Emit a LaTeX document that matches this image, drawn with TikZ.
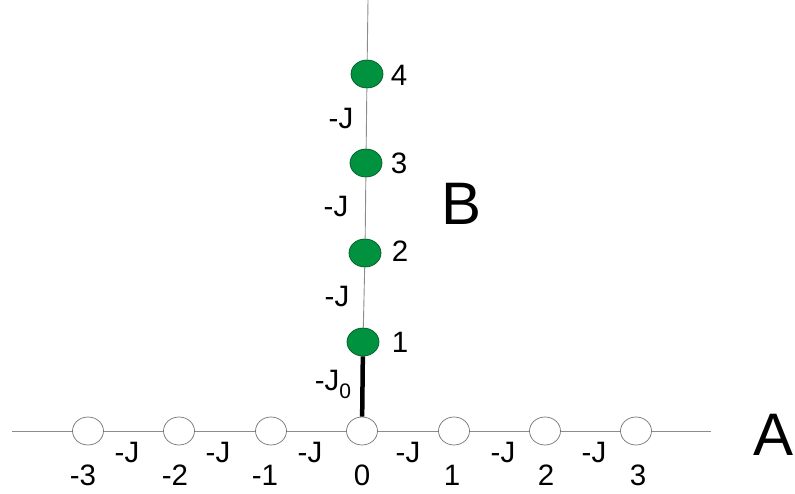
\documentclass[tikz,border=0pt]{standalone}
\usepackage{fontspec}
\setmainfont{Liberation Sans}
\usetikzlibrary{shapes.geometric}
\definecolor{sitegreen}{RGB}{0,146,63}
\tikzset{
  siteA/.style={ellipse,draw=black!55,fill=white,line width=0.7pt,minimum width=31pt,minimum height=28pt,inner sep=0pt},
  siteB/.style={ellipse,draw=sitegreen!60!black,fill=sitegreen,line width=0.7pt,minimum width=32pt,minimum height=28pt,inner sep=0pt},
  hop/.style={black!45,line width=0.9pt},
  link/.style={black,line width=4.5pt},
  lbl/.style={font=\fontsize{29.5}{31}\selectfont,inner sep=0pt,anchor=base},
  big/.style={font=\fontsize{60}{62}\selectfont,inner sep=0pt,anchor=base}
}

\begin{document}
\begin{tikzpicture}[x=1pt,y=-1pt]
\useasboundingbox (0,0) rectangle (795,494);
% chain A
\node[siteA] (a-3) at (88,431) {};
\node[siteA] (a-2) at (179,431) {};
\node[siteA] (a-1) at (271,431) {};
\node[siteA] (a0) at (362,431) {};
\node[siteA] (a1) at (454,431) {};
\node[siteA] (a2) at (545,431) {};
\node[siteA] (a3) at (636,431) {};
\coordinate (aleft) at (12,431);
\coordinate (aright) at (711,431);
% chain B
\node[siteB] (b1) at (363,342) {};
\node[siteB] (b2) at (365,253) {};
\node[siteB] (b3) at (366,163) {};
\node[siteB] (b4) at (367,74) {};
\coordinate (btop) at (368,0);
% bonds
\draw[hop] (aleft) -- (a-3) -- (a-2) -- (a-1) -- (a0) -- (a1) -- (a2) -- (a3) -- (aright);
\draw[hop] (b1) -- (b2) -- (b3) -- (b4) -- (btop);
\draw[link] (b1) -- (a0);
% site labels
\node[lbl] (n-3) at (83,485) {-3};
\node[lbl] (n-2) at (175,485) {-2};
\node[lbl] (n-1) at (265,485) {-1};
\node[lbl] (n0) at (362,485) {0};
\node[lbl] (n1) at (452,485) {1};
\node[lbl] (n2) at (546,485) {2};
\node[lbl] (n3) at (638,485) {3};
\node[lbl] (m1) at (400,352) {1};
\node[lbl] (m2) at (400,262) {2};
\node[lbl] (m3) at (399,174) {3};
\node[lbl] (m4) at (399,86) {4};
% couplings
\node[lbl] (ja1) at (127,462) {-J};
\node[lbl] (ja2) at (218,462) {-J};
\node[lbl] (ja3) at (310,462) {-J};
\node[lbl] (ja4) at (408,462) {-J};
\node[lbl] (ja5) at (503,462) {-J};
\node[lbl] (ja6) at (594,462) {-J};
\node[lbl] (jb2) at (337,306) {-J};
\node[lbl] (jb3) at (336,217) {-J};
\node[lbl] (jb4) at (341,129) {-J};
\node[lbl] (jb1) at (333,390) {-J\raisebox{-0.28em}{\fontsize{21}{22}\selectfont 0}};
% chain names
\node[big] (A) at (774,455) {A};
\node[big] (B) at (462,225) {B};
\end{tikzpicture}
\end{document}
